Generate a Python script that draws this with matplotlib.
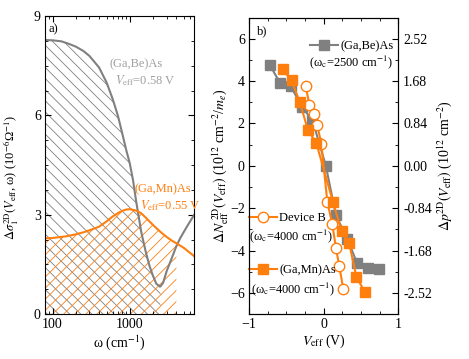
import matplotlib.pyplot as plt
from matplotlib.ticker import MultipleLocator, FixedLocator, LogLocator, NullFormatter
import numpy as np

plt.rcParams['font.family'] = ['Liberation Serif', 'DejaVu Serif']
plt.rcParams['mathtext.fontset'] = 'stix'
plt.rcParams['font.size'] = 10
plt.rcParams['hatch.linewidth'] = 0.6

GRAY = '#808080'
ORANGE = '#FF7F0E'

# panel a) conductivity spectra
w_gabe = [80, 100, 130, 160, 200, 250, 300, 400, 500, 600, 700, 800, 900, 1000,
          1100, 1200, 1400, 1600, 1800, 2000, 2200, 2450, 2500, 2700, 3000, 3500,
          4000, 4500, 5500, 6800]
s_gabe = [8.28, 8.27, 8.24, 8.17, 8.08, 7.95, 7.8, 7.45, 7.0, 6.5, 6.0, 5.45, 4.95,
          4.55, 4.05, 3.45, 2.5, 1.9, 1.45, 1.15, 0.92, 0.83, 0.84, 0.95, 1.3, 1.7,
          2.05, 2.3, 2.65, 3.0]
w_gamn = [80, 100, 150, 200, 250, 300, 400, 500, 600, 700, 800, 900, 1000, 1200,
          1400, 1600, 2000, 2500, 3000, 3500, 4000, 4200, 5000, 6800]
s_gamn = [2.29, 2.3, 2.35, 2.41, 2.47, 2.53, 2.64, 2.8, 2.95, 3.05, 3.12, 3.16, 3.17,
          3.13, 3.05, 2.92, 2.69, 2.48, 2.33, 2.22, 2.14, 2.11, 2.0, 1.75]
wc_gabe = 2500
wc_gamn = 4000

# panel b) carrier density vs gate voltage
v_gabe = [-0.72, -0.58, -0.44, -0.29, -0.15, 0.03, 0.165, 0.32, 0.45, 0.59, 0.74]
n_gabe = [4.75, 3.89, 3.76, 2.78, 2.16, 0.0, -2.33, -3.47, -4.6, -4.84, -4.87]
v_gamn = [-0.55, -0.43, -0.32, -0.21, -0.1, 0.125, 0.24, 0.34, 0.44, 0.55]
n_gamn = [4.55, 4.04, 3.02, 1.68, 1.1, -1.7, -3.08, -3.63, -5.24, -5.94]
v_devb = [-0.24, -0.19, -0.13, -0.085, -0.03, 0.05, 0.117, 0.165, 0.21, 0.264]
n_devb = [3.77, 2.86, 2.47, 1.92, 1.02, -1.7, -2.76, -3.87, -4.73, -5.82]

fig = plt.figure(figsize=(4.69, 3.59), dpi=100)
ax1 = fig.add_axes([0.096, 0.125, 0.318, 0.830])
ax2 = fig.add_axes([0.531, 0.125, 0.318, 0.826])

# ---- panel a)
wg = np.array(w_gabe)
sg = np.array(s_gabe)
wm = np.array(w_gamn)
sm = np.array(s_gamn)
ax1.fill_between(wg, 0, sg, where=wg <= wc_gabe, facecolor='none',
                 edgecolor=GRAY, hatch='\\\\\\', linewidth=0)
ax1.fill_between(wm, 0, sm, where=wm <= wc_gamn, facecolor='none',
                 edgecolor=ORANGE, hatch='///', linewidth=0)
ax1.plot(wg, sg, color=GRAY, lw=1.5)
ax1.plot(wm, sm, color=ORANGE, lw=1.5)
ax1.set_xscale('log')
ax1.set_xlim(80, 6800)
ax1.set_ylim(0, 9)
ax1.yaxis.set_major_locator(MultipleLocator(3))
ax1.yaxis.set_minor_locator(MultipleLocator(0.75))
ax1.xaxis.set_major_locator(FixedLocator([100, 1000]))
ax1.set_xticklabels(['100', '1000'])
ax1.xaxis.set_minor_locator(LogLocator(base=10, subs=np.arange(2, 10)))
ax1.xaxis.set_minor_formatter(NullFormatter())
ax1.set_xlabel('ω (cm$^{-1}$)', labelpad=1)
ax1.set_ylabel(r'$\Delta\sigma_1^{\rm 2D}(V_{\rm eff}$, ω) (10$^{-6}$Ω$^{-1}$)',
               fontsize=9, labelpad=4)
ax1.yaxis.set_label_coords(-0.16, 0.46)
ax1.text(0.02, 0.975, 'a)', fontsize=9, transform=ax1.transAxes, va='top', ha='left')
ax1.text(0.435, 0.84, '(Ga,Be)As', fontsize=9, color='#A0A0A0', transform=ax1.transAxes, va='center')
ax1.text(0.47, 0.785, r'$V_{\rm eff}$=0.58 V', fontsize=9, color='#A0A0A0', transform=ax1.transAxes, va='center')
ax1.text(0.60, 0.42, '(Ga,Mn)As', fontsize=9, color=ORANGE, transform=ax1.transAxes, va='center')
ax1.text(0.635, 0.365, r'$V_{\rm eff}$=0.55 V', fontsize=9, color=ORANGE, transform=ax1.transAxes, va='center')

# ---- panel b)
l1, = ax2.plot(v_gabe, n_gabe, color=GRAY, marker='s', ms=7, lw=1.5, label='(Ga,Be)As')
l2, = ax2.plot(v_devb, n_devb, color=ORANGE, marker='o', ms=7.5, mfc='white',
               mec=ORANGE, lw=1.5, label='Device B')
l3, = ax2.plot(v_gamn, n_gamn, color=ORANGE, marker='s', ms=7, lw=1.5, label='(Ga,Mn)As')
ax2.set_xlim(-1, 1)
ax2.set_ylim(-7, 7)
ax2.xaxis.set_major_locator(MultipleLocator(1))
ax2.xaxis.set_minor_locator(MultipleLocator(0.25))
ax2.yaxis.set_major_locator(MultipleLocator(2))
ax2.yaxis.set_minor_locator(MultipleLocator(1))
ax2.set_xlabel(r'$V_{\rm eff}$ (V)', labelpad=1)
ax2.set_ylabel(r'$\Delta N_{\rm eff}^{\ \rm 2D}(V_{\rm eff})$ (10$^{12}$ cm$^{-2}$/$m_e$)', labelpad=0)
ax2.text(0.05, 0.975, 'b)', fontsize=9, transform=ax2.transAxes, va='top', ha='left')

leg_kw = dict(frameon=False, borderpad=0, borderaxespad=0, handlelength=2.2,
              handletextpad=0.2, loc='center left', fontsize=9)
lg1 = ax2.legend(handles=[l1], bbox_to_anchor=(0.41, 0.904), **leg_kw)
ax2.add_artist(lg1)
lg2 = ax2.legend(handles=[l2], bbox_to_anchor=(0.0, 0.323), **leg_kw)
ax2.add_artist(lg2)
ax2.legend(handles=[l3], bbox_to_anchor=(0.0, 0.148), **leg_kw)
ax2.text(0.685, 0.85, r'(ω$_{\rm c}$=2500 cm$^{-1}$)', fontsize=9, transform=ax2.transAxes,
         ha='center', va='center')
ax2.text(0.28, 0.263, r'(ω$_{\rm c}$=4000 cm$^{-1}$)', fontsize=9, transform=ax2.transAxes,
         ha='center', va='center')
ax2.text(0.295, 0.084, r'(ω$_{\rm c}$=4000 cm$^{-1}$)', fontsize=9, transform=ax2.transAxes,
         ha='center', va='center')

ax3 = ax2.twinx()
ax3.set_ylim(-7 * 0.42, 7 * 0.42)
ax3.yaxis.set_major_locator(FixedLocator([-2.52, -1.68, -0.84, 0.0, 0.84, 1.68, 2.52]))
ax3.yaxis.set_minor_locator(FixedLocator([-2.94, -2.1, -1.26, -0.42, 0.42, 1.26, 2.1, 2.94]))
ax3.set_yticklabels(['-2.52', '-1.68', '-0.84', '0.00', '0.84', '1.68', '2.52'])
ax3.set_ylabel(r'$\Delta p^{\rm 2D}(V_{\rm eff})$ (10$^{12}$ cm$^{-2}$)', labelpad=2)
ax3.tick_params(which='both', direction='in')
ax3.tick_params(which='major', length=4)
ax3.tick_params(which='minor', length=2)

for ax in (ax1, ax2):
    ax.tick_params(which='both', direction='in', top=True)
    ax.tick_params(which='major', length=4, pad=3)
    ax.tick_params(which='minor', length=2)
ax1.tick_params(which='both', right=True)

fig.savefig('out.png', dpi=100)
